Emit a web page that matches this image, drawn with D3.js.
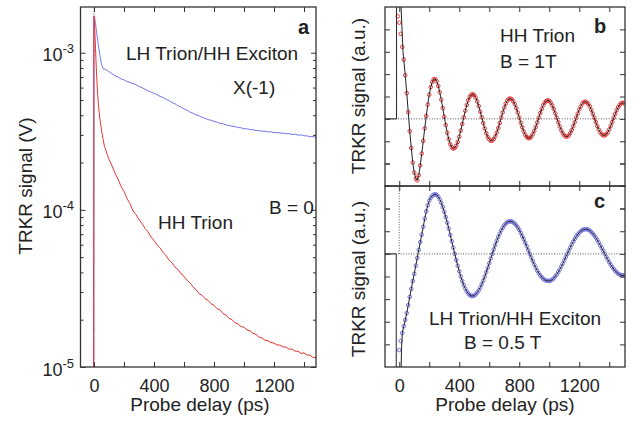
<!DOCTYPE html>
<html>
<head>
<meta charset="utf-8">
<script src="https://cdn.jsdelivr.net/npm/d3@7"></script>
<style>
  body { margin: 0; background: #fff; }
  text { font-family: "Liberation Sans", Arial, sans-serif; fill: #222; }
</style>
</head>
<body>
<svg id="fig" width="634" height="424"></svg>
<script>
// ---- panel a : TRKR signal at B = 0, log scale ----
// [delay ps, signal] ; blue in 1e-4 V, red in 1e-5 V
const blueUnit = 1e-4;
const blueA = [[-2,0.05],[-1,14.0],[3,17.0],[10,15.3],[20,12.9],[30,11.0],[40,9.55],[50,8.45],
  [60,7.93],[80,7.80],[100,7.57],[120,7.36],[140,7.13],[160,7.00],[180,6.81],[200,6.72],
  [220,6.56],[240,6.48],[260,6.35],[280,6.26],[300,6.10],[320,5.99],[340,5.86],[360,5.71],
  [380,5.63],[400,5.50],[420,5.41],[440,5.27],[460,5.19],[480,5.06],[500,4.96],[520,4.82],
  [540,4.73],[560,4.60],[580,4.51],[600,4.39],[620,4.31],[640,4.19],[660,4.12],[680,4.02],
  [700,3.97],[720,3.88],[740,3.83],[760,3.75],[780,3.72],[800,3.65],[820,3.62],[840,3.55],
  [860,3.53],[880,3.47],[900,3.45],[920,3.40],[940,3.39],[960,3.34],[980,3.33],[1000,3.28],
  [1020,3.28],[1040,3.24],[1060,3.24],[1080,3.20],[1100,3.20],[1120,3.16],[1140,3.17],
  [1160,3.13],[1180,3.14],[1200,3.10],[1220,3.11],[1240,3.08],[1260,3.08],[1280,3.05],
  [1300,3.06],[1320,3.02],[1340,3.03],[1360,2.99],[1380,3.00],[1400,2.96],[1420,2.96],
  [1440,2.92],[1460,2.93],[1480,2.89]];

const redUnit = 1e-5;
const redA = [[-2,0.5],[-1,150],[0,172],[5,140],[10,106],[15,81],[20,64.3],[25,53.7],[30,45.5],
  [40,37.4],[50,32.1],[60,28.3],[70,25.3],[80,23.8],[90,22.2],[100,21.0],[120,19.1],
  [140,17.1],[160,15.7],[180,14.1],[200,13.1],[220,11.8],[240,10.95],[260,9.85],[280,9.33],
  [300,8.66],[320,8.21],[340,7.63],[360,7.25],[380,6.72],[400,6.39],[420,5.99],[440,5.73],
  [460,5.36],[480,5.13],[500,4.80],[520,4.60],[540,4.32],[560,4.17],[580,3.92],[600,3.78],
  [620,3.56],[640,3.43],[660,3.23],[680,3.11],[700,2.93],[720,2.86],[740,2.72],[760,2.66],
  [780,2.53],[800,2.47],[820,2.35],[840,2.31],[860,2.19],[880,2.14],[900,2.04],[920,2.00],
  [940,1.91],[960,1.88],[980,1.81],[1000,1.79],[1020,1.72],[1040,1.70],[1060,1.64],
  [1080,1.61],[1100,1.55],[1120,1.53],[1140,1.48],[1160,1.47],[1180,1.43],[1200,1.42],
  [1220,1.38],[1240,1.38],[1260,1.34],[1280,1.34],[1300,1.30],[1320,1.30],[1340,1.26],
  [1360,1.26],[1380,1.22],[1400,1.23],[1420,1.19],[1440,1.19],[1460,1.15],[1480,1.15]];

const decadesA = [1e-5, 1e-4, 1e-3];
const decadeLabels = ["-5", "-4", "-3"];

// ---- panel b : HH trion, B = 1 T (a.u.), one point every 10 ps from -10 ps ----
const bStart = -10, bStep = 10;
const bVals = [4.58,
  4.30, 3.80, 3.22, 2.65, 1.95, 1.15, 0.30, -0.55, -1.30, -1.95,
  -2.40, -2.66, -2.75, -2.52, -2.08, -1.55, -0.98, -0.42, 0.13, 0.64,
  1.08, 1.42, 1.65, 1.77, 1.78, 1.68, 1.47, 1.19, 0.86, 0.48,
  0.10, -0.28, -0.62, -0.91, -1.13, -1.27, -1.33, -1.30, -1.20, -1.03,
  -0.80, -0.52, -0.23, 0.07, 0.36, 0.62, 0.83, 0.99, 1.08, 1.10,
  1.06, 0.95, 0.78, 0.57, 0.32, 0.07, -0.19, -0.43, -0.64, -0.81,
  -0.92, -0.98, -0.97, -0.90, -0.78, -0.61, -0.41, -0.18, 0.06, 0.29,
  0.50, 0.68, 0.81, 0.89, 0.91, 0.88, 0.79, 0.66, 0.48, 0.28,
  0.06, -0.17, -0.37, -0.56, -0.71, -0.81, -0.86, -0.86, -0.80, -0.69,
  -0.54, -0.36, -0.16, 0.05, 0.26, 0.45, 0.61, 0.73, 0.80, 0.83,
  0.80, 0.72, 0.60, 0.44, 0.25, 0.05, -0.15, -0.34, -0.51, -0.65,
  -0.74, -0.79, -0.79, -0.74, -0.64, -0.50, -0.33, -0.15, 0.05, 0.24,
  0.42, 0.56, 0.68, 0.75, 0.77, 0.74, 0.67, 0.56, 0.41, 0.23,
  0.05, -0.14, -0.32, -0.48, -0.60, -0.69, -0.74, -0.73, -0.69, -0.60,
  -0.47, -0.31, -0.14, 0.05, 0.22, 0.39, 0.53, 0.63, 0.70, 0.72,
  0.69];
// fit curve before the data points join it (pump spike, off scale)
const fitBHead = [[-95,0],[-18,0],[-18,6],[5,6],[12,5.0],[25,3.0]];

// ---- panel c : LH trion / HH exciton, B = 0.5 T, every 10 ps from 0 ps ----
const cStart = 0, cStep = 10;
const cVals = [
  -4.25, -3.85, -3.50, -3.20, -2.92, -2.62, -2.27, -1.90, -1.55, -1.20,
  -0.88, -0.52, -0.18, 0.18, 0.52, 0.85, 1.20, 1.56, 1.88, 2.15,
  2.35, 2.48, 2.57, 2.62, 2.64, 2.61, 2.53, 2.41, 2.26, 2.07,
  1.86, 1.63, 1.38, 1.12, 0.84, 0.56, 0.28, 0.00, -0.27, -0.53,
  -0.77, -1.00, -1.20, -1.38, -1.53, -1.66, -1.75, -1.82, -1.86, -1.86,
  -1.84, -1.79, -1.71, -1.61, -1.49, -1.34, -1.18, -1.00, -0.81, -0.61,
  -0.41, -0.20, 0.00, 0.20, 0.39, 0.58, 0.75, 0.90, 1.04, 1.16,
  1.26, 1.34, 1.40, 1.43, 1.44, 1.43, 1.39, 1.34, 1.26, 1.17,
  1.06, 0.93, 0.79, 0.65, 0.49, 0.33, 0.16, 0.00, -0.16, -0.32,
  -0.47, -0.61, -0.74, -0.85, -0.95, -1.03, -1.10, -1.15, -1.18, -1.19,
  -1.20, -1.18, -1.14, -1.08, -1.00, -0.91, -0.80, -0.69, -0.56, -0.43,
  -0.29, -0.14, 0.00, 0.14, 0.28, 0.42, 0.54, 0.66, 0.77, 0.86,
  0.94, 1.00, 1.05, 1.08, 1.09, 1.09, 1.07, 1.03, 0.97, 0.90,
  0.82, 0.72, 0.62, 0.50, 0.38, 0.26, 0.13, 0.00, -0.13, -0.25,
  -0.37, -0.48, -0.58, -0.67, -0.75, -0.82, -0.88, -0.92, -0.94, -0.95,
  -0.95];
const fitCHead = [[-95,0],[-20,0],[-20,-6],[10,-6],[15,-4.2]];

const xTicks = [0, 200, 400, 600, 800, 1000, 1200, 1400];
const xLabels = [0, 400, 800, 1200];
const ticksBC = [-4, -3, -2, -1, 0, 1, 2, 3, 4];

// ---------------------------------------------------------------
const svg = d3.select("#fig");
const AXIS = "#333";

const fA = {l: 80.5, r: 316, t: 7, b: 367};
const fB = {l: 385, r: 625, t: 7, b: 186};
const fC = {l: 385, r: 625, t: 186, b: 367};

const xA = d3.scaleLinear().domain([-90, 1480]).range([fA.l, fA.r]);
const yA = d3.scaleLog().domain([1e-5, 1.954e-3]).range([fA.b, fA.t]);
const xB = d3.scaleLinear().domain([-95, 1505]).range([fB.l, fB.r]);
const yB = d3.scaleLinear().domain([-3, 5]).range([fB.b, fB.t]);
const yC = d3.scaleLinear().domain([-5, 3]).range([fC.b, fC.t]);

const defs = svg.append("defs");
function clip(id, f) {
  defs.append("clipPath").attr("id", id).append("rect")
    .attr("x", f.l).attr("y", f.t).attr("width", f.r - f.l).attr("height", f.b - f.t);
  return svg.append("g").attr("clip-path", `url(#${id})`);
}

function styleAxis(g) {
  g.select(".domain").remove();
  g.selectAll(".tick line").attr("stroke", AXIS).attr("stroke-width", 1);
  g.selectAll("text").attr("font-size", 18).attr("font-family", null).attr("fill", "#222");
  g.attr("font-family", null);
}

// x ticks on top and bottom, y ticks on both sides, all pointing in
function frame(f, x, y, yVals, yMinor, labels) {
  svg.append("g").attr("transform", `translate(0,${f.b})`)
    .call(d3.axisBottom(x).tickValues(xTicks).tickSizeInner(-5).tickSizeOuter(0).tickPadding(12)
      .tickFormat(d => labels && xLabels.includes(d) ? d : ""))
    .call(styleAxis);
  svg.append("g").attr("transform", `translate(0,${f.t})`)
    .call(d3.axisTop(x).tickValues(xTicks).tickSizeInner(-5).tickSizeOuter(0).tickFormat(""))
    .call(styleAxis);
  [[d3.axisLeft, f.l], [d3.axisRight, f.r]].forEach(([ax, pos]) => {
    svg.append("g").attr("transform", `translate(${pos},0)`)
      .call(ax(y).tickValues(yVals).tickSizeInner(-5).tickSizeOuter(0).tickFormat(""))
      .call(styleAxis);
    if (yMinor) svg.append("g").attr("transform", `translate(${pos},0)`)
      .call(ax(y).tickValues(yMinor).tickSizeInner(-3).tickSizeOuter(0).tickFormat(""))
      .call(styleAxis);
  });
  svg.append("rect").attr("x", f.l).attr("y", f.t)
    .attr("width", f.r - f.l).attr("height", f.b - f.t)
    .attr("fill", "none").attr("stroke", AXIS).attr("stroke-width", 1.3);
}

function dotted(g, pts, x, y) {
  g.append("path").attr("d", d3.line().x(d => x(d[0])).y(d => y(d[1]))(pts))
    .attr("fill", "none").attr("stroke", "#555").attr("stroke-width", 1)
    .attr("stroke-dasharray", "1,1.6");
}

// ---- panel a ----
const gA = clip("clipA", fA);
dotted(gA, [[0, 1e-6], [0, 3e-3]], xA, yA);
const lineA = d3.line().x(d => xA(d[0])).y(d => yA(d[1]));
gA.append("path").attr("d", lineA(blueA.map(d => [d[0], d[1] * blueUnit])))
  .attr("fill", "none").attr("stroke", "#7878ec").attr("stroke-width", 1);
gA.append("path").attr("d", lineA(redA.map(d => [d[0], d[1] * redUnit])))
  .attr("fill", "none").attr("stroke", "#e83434").attr("stroke-width", 1);

const minorA = [];
decadesA.forEach(dec => d3.range(2, 10).forEach(m => {
  if (dec * m < yA.domain()[1]) minorA.push(dec * m);
}));
frame(fA, xA, yA, decadesA, minorA, true);

decadesA.forEach((v, i) => {
  const t = svg.append("text").attr("x", 74).attr("y", yA(v) + 8.5)
    .attr("text-anchor", "end").attr("font-size", 18);
  t.append("tspan").text("10");
  t.append("tspan").attr("font-size", 13).attr("dy", -8).text(decadeLabels[i]);
});

// ---- panel b ----
const gB = clip("clipB", fB);
dotted(gB, [[-95, 0], [1505, 0]], xB, yB);
const ptsB = bVals.map((v, i) => [bStart + i * bStep, v]);
gB.selectAll("circle").data(ptsB).join("circle")
  .attr("cx", d => xB(d[0])).attr("cy", d => yB(d[1])).attr("r", 1.8)
  .attr("fill", "none").attr("stroke", "#ec3c3c").attr("stroke-width", 1);
gB.append("path")
  .attr("d", d3.line().x(d => xB(d[0])).y(d => yB(d[1]))(fitBHead.concat(ptsB.filter(d => d[0] >= 30))))
  .attr("fill", "none").attr("stroke", "#222").attr("stroke-width", 1);
frame(fB, xB, yB, ticksBC, null, false);

// ---- panel c ----
const gC = clip("clipC", fC);
dotted(gC, [[-95, 0], [1505, 0]], xB, yC);
dotted(gC, [[0, 0], [0, 3]], xB, yC);
const ptsC = cVals.map((v, i) => [cStart + i * cStep, v]);
gC.selectAll("circle").data(ptsC).join("circle")
  .attr("cx", d => xB(d[0])).attr("cy", d => yC(d[1])).attr("r", 1.8)
  .attr("fill", "none").attr("stroke", "#7474e6").attr("stroke-width", 1);
gC.append("path")
  .attr("d", d3.line().x(d => xB(d[0])).y(d => yC(d[1]))(fitCHead.concat(ptsC.filter(d => d[0] >= 20))))
  .attr("fill", "none").attr("stroke", "#222").attr("stroke-width", 1);
frame(fC, xB, yC, ticksBC, null, true);

// ---- texts ----
function label(x, y, s, opts = {}) {
  svg.append("text").attr("x", x).attr("y", y).text(s)
    .attr("font-size", opts.size || 19)
    .attr("font-weight", opts.bold ? "bold" : null)
    .attr("text-anchor", opts.anchor || "start");
}
function vlabel(x, y, s) {
  svg.append("text").attr("transform", `translate(${x},${y}) rotate(-90)`)
    .attr("text-anchor", "middle").attr("font-size", 19).text(s);
}

label(126, 60, "LH Trion/HH Exciton");
label(233, 94, "X(-1)");
label(298, 34, "a", {bold: true, size: 20});
label(269, 214, "B = 0");
label(158, 229, "HH Trion");
label(200, 411, "Probe delay (ps)", {anchor: "middle"});
vlabel(32, 186, "TRKR signal (V)");

label(500, 42, "HH Trion");
label(500, 68, "B = 1T");
label(594, 33, "b", {bold: true, size: 20});
label(594, 208, "c", {bold: true, size: 20});
label(429, 325, "LH Trion/HH Exciton");
label(464, 349, "B = 0.5 T");
label(505, 411, "Probe delay (ps)", {anchor: "middle"});
vlabel(365, 96, "TRKR signal (a.u.)");
vlabel(365, 279, "TRKR signal (a.u.)");
</script>
</body>
</html>
